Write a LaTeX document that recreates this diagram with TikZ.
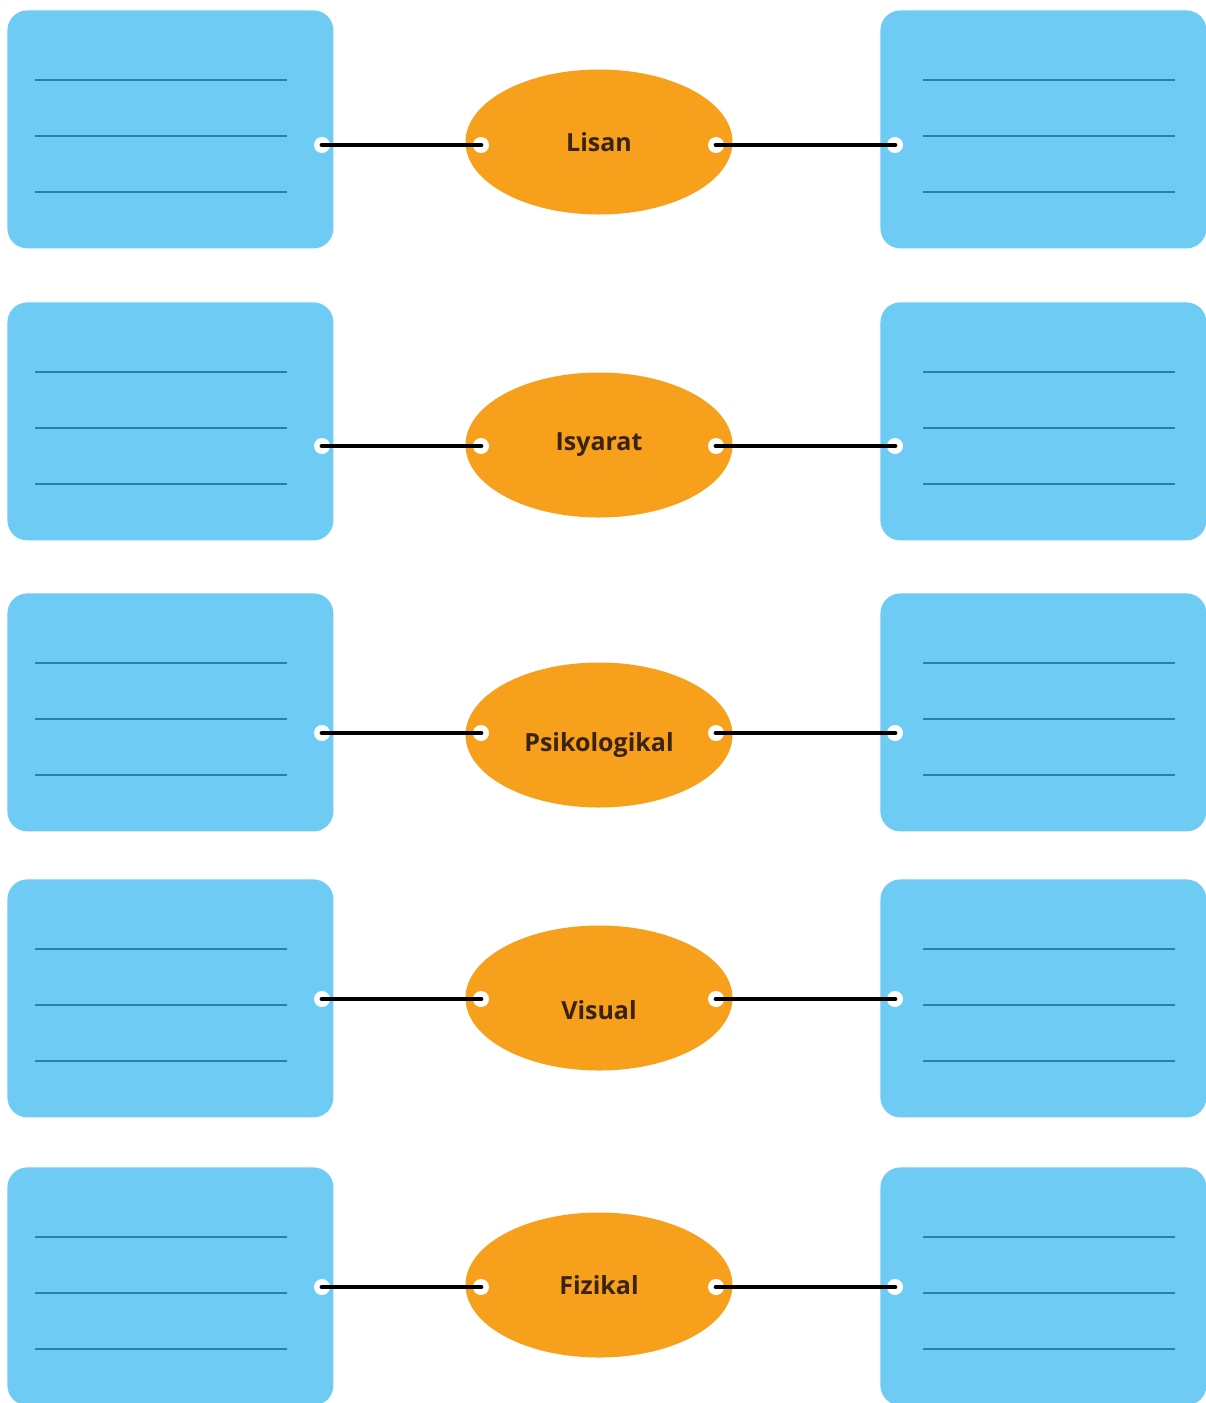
\documentclass[tikz,border=0pt]{standalone}
\usepackage{fontspec}
\setmainfont{Open Sans}
\usetikzlibrary{shapes.geometric}
\definecolor{boxblue}{RGB}{110,204,244}
\definecolor{ruleblue}{RGB}{42,127,175}
\definecolor{ovalorange}{RGB}{246,160,28}
\definecolor{labeltext}{RGB}{59,35,20}
\begin{document}
\begin{tikzpicture}[x=0.5pt,y=-0.5pt,
  bluebox/.style={draw=none, fill=boxblue, rounded corners=10pt, minimum width=163pt, minimum height=119pt, inner sep=0pt, anchor=north west},
  oval/.style={ellipse, fill=ovalorange, draw=none, minimum width=133.5pt, minimum height=72.5pt, inner sep=0pt},
  hole/.style={circle, fill=white, draw=none, minimum size=8pt, inner sep=0pt},
  rulestyle/.style={draw=ruleblue, line width=1.2pt},
  conn/.style={draw=black, line width=2.4pt, line cap=round},
  lbl/.style={font=\fontsize{12.5pt}{14pt}\selectfont\bfseries, text=labeltext, inner sep=0pt}]
\fill[white] (0,0) rectangle (1205,1403);
\useasboundingbox (0,0) rectangle (1205,1403);
\foreach \i/\top/\dy/\ey/\ty/\txt in {1/10/145/142/142/Lisan, 2/302/446/445/445/Isyarat, 3/593/733/735/745/Psikologikal, 4/879/999/998/1010/Visual, 5/1167/1287/1285/1285/Fizikal}{
  \node[bluebox] (LB\i) at (7,\top) {};
  \node[bluebox] (RB\i) at (880,\top) {};
  \foreach \o in {70,126,182}{
    \draw[rulestyle] (35,\top+\o) -- (287,\top+\o);
    \draw[rulestyle] (923,\top+\o) -- (1175,\top+\o);
  }
  \node[oval] (E\i) at (599,\ey) {};
  \node[lbl] (T\i) at (599,\ty) {\txt};
  \node[hole] (LD\i) at (322,\dy) {};
  \node[hole] (EL\i) at (481,\dy) {};
  \node[hole] (ER\i) at (716,\dy) {};
  \node[hole] (RD\i) at (895,\dy) {};
  \draw[conn] (LD\i.center) -- (EL\i.center);
  \draw[conn] (ER\i.center) -- (RD\i.center);
}
\end{tikzpicture}
\end{document}
